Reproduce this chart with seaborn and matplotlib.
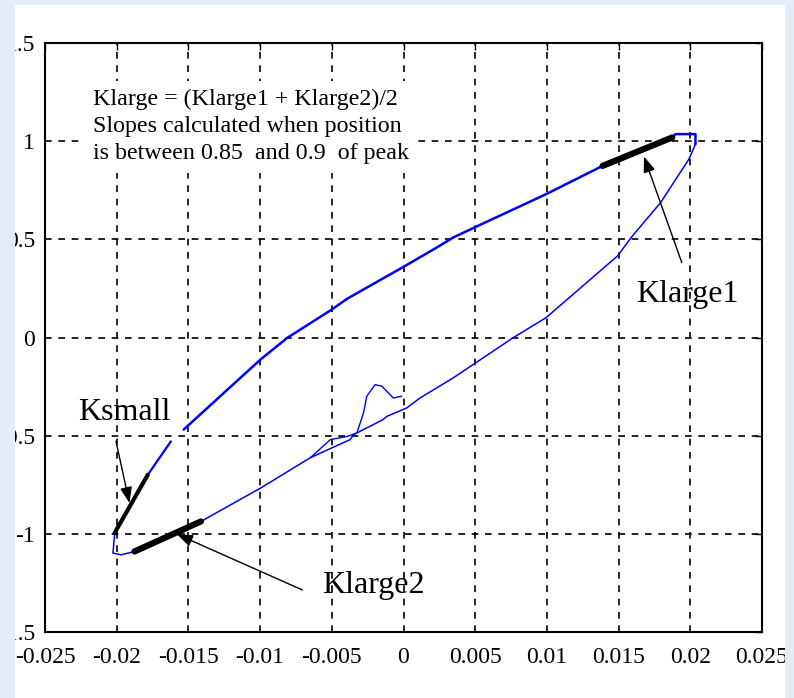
import numpy as np
import pandas as pd
import matplotlib
matplotlib.use("Agg")
import matplotlib.pyplot as plt
import seaborn as sns
from matplotlib.patches import Rectangle

# ---- data ----
upper_a_x = [-0.02015, -0.01783, -0.01622]
upper_a_y = [-0.996, -0.699, -0.529]

upper_b_x = [-0.01533, -0.00997, -0.00811, -0.00499, -0.00394, 0.00010, 0.00231, 0.00346,
             0.00508, 0.00994, 0.01388, 0.01874, 0.01897, 0.02036, 0.02036]
upper_b_y = [-0.469, -0.112, -0.002, 0.143, 0.197, 0.364, 0.458, 0.509,
             0.565, 0.730, 0.874, 1.019, 1.036, 1.036, 0.985]

lower_x = [0.02036, 0.01990, 0.01793, 0.01596, 0.01492, 0.00994, 0.00763, 0.00346, 0.00115,
           0.00022, -0.00117, -0.00142, -0.00349, -0.00372, -0.00649, -0.00997,
           -0.01413, -0.01876, -0.01969, -0.02026, -0.02015]
lower_y = [0.985, 0.908, 0.687, 0.517, 0.415, 0.101, -0.002, -0.206, -0.308,
           -0.359, -0.402, -0.418, -0.495, -0.520, -0.612, -0.767,
           -0.937, -1.090, -1.107, -1.098, -1.005]

bump_x = [-0.00013, -0.00071, -0.00151, -0.00198, -0.00256, -0.00279, -0.00325,
          -0.00394, -0.00510, -0.00649]
bump_y = [-0.299, -0.308, -0.248, -0.240, -0.299, -0.384, -0.486,
          -0.504, -0.520, -0.612]

ksmall_x = [-0.02015, -0.01783]
ksmall_y = [-0.996, -0.699]
klarge1_x = [0.01388, 0.01874]
klarge1_y = [0.874, 1.019]
klarge2_x = [-0.01876, -0.01413]
klarge2_y = [-1.090, -0.937]

x_ticks = [-0.025, -0.02, -0.015, -0.01, -0.005, 0, 0.005, 0.01, 0.015, 0.02, 0.025]
x_labels = ["-0.025", "-0.02", "-0.015", "-0.01", "-0.005", "0", "0.005", "0.01", "0.015", "0.02", "0.025"]
y_ticks = [-1.5, -1, -0.5, 0, 0.5, 1, 1.5]
y_labels = ["-1.5", "-1", "-0.5", "0", "0.5", "1", "1.5"]

note = "Klarge = (Klarge1 + Klarge2)/2\nSlopes calculated when position\nis between 0.85  and 0.9  of peak"
arrows = [
    ("Klarge1", (0.01677, 0.922), (0.01941, 0.381), (0.01622, 0.219)),
    ("Ksmall", (-0.01911, -0.843), (-0.02005, -0.529), (-0.02267, -0.383)),
    ("Klarge2", (-0.01580, -1.002), (-0.00705, -1.286), (-0.00566, -1.265)),
]

# ---- figure ----
sns.set_theme(style="white")
plt.rcParams['font.family'] = ['Liberation Serif', 'DejaVu Serif']
fig = plt.figure(figsize=(7.94, 6.98), dpi=100)
fig.patch.set_facecolor("white")
ax = fig.add_axes([45/794, 1-632/698, (762-45)/794, (632-43)/698])
ax.set_facecolor("white")

blue = "#0000ff"
sns.lineplot(x=upper_a_x, y=upper_a_y, sort=False, estimator=None, color=blue, lw=1.6, ax=ax)
sns.lineplot(x=upper_b_x, y=upper_b_y, sort=False, estimator=None, color=blue, lw=1.8, ax=ax)
sns.lineplot(x=lower_x, y=lower_y, sort=False, estimator=None, color=blue, lw=1.1, ax=ax)
sns.lineplot(x=bump_x, y=bump_y, sort=False, estimator=None, color=blue, lw=1.0, ax=ax)
sns.lineplot(x=ksmall_x, y=ksmall_y, sort=False, estimator=None, color="black", lw=3.0, ax=ax)
sns.lineplot(x=klarge1_x, y=klarge1_y, sort=False, estimator=None, color="black", lw=4.5, ax=ax)
sns.lineplot(x=klarge2_x, y=klarge2_y, sort=False, estimator=None, color="black", lw=4.5, ax=ax)

ax.set_xlim(-0.025, 0.025)
ax.set_ylim(-1.5, 1.5)
ax.set_xticks(x_ticks)
ax.set_xticklabels(x_labels)
ax.set_yticks(y_ticks)
ax.set_yticklabels(y_labels)
ax.tick_params(direction="in", length=5, width=1, colors="black", labelsize=17,
               top=True, right=True)
ax.tick_params(axis="x", pad=11)
ax.tick_params(axis="y", pad=7)
ax.grid(True, color="black", linestyle=(0, (4, 4)), linewidth=1.2)
for s in ax.spines.values():
    s.set_color("black")
    s.set_linewidth(1.5)
    s.set_visible(True)
ax.set_xlabel("")
ax.set_ylabel("")

ax.text(-0.02163, 1.265, note, fontsize=17.3, va="top", ha="left", linespacing=1.38, color="black",
        bbox=dict(facecolor="white", edgecolor="none", pad=6), zorder=5)

for label, head, tail, tpos in arrows:
    ax.annotate("", xy=head, xytext=tail,
                arrowprops=dict(arrowstyle="-|>,head_length=0.8,head_width=0.3", color="black",
                                lw=1.0, shrinkA=0, shrinkB=0))
    ax.text(tpos[0], tpos[1], label, fontsize=23, ha="left", va="center", color="black")

# light-blue page border that clips the outer labels (as in the reference)
bg = "#e4ecf7"
for (x0, y0, w, h) in [(0, 0, 15/794, 1), (785/794, 0, 1, 1), (0, 1-5/698, 1, 5/698)]:
    fig.patches.append(Rectangle((x0, y0), w, h, transform=fig.transFigure,
                                 facecolor=bg, edgecolor="none", zorder=100))

fig.savefig("out.png", dpi=100, facecolor="white")
